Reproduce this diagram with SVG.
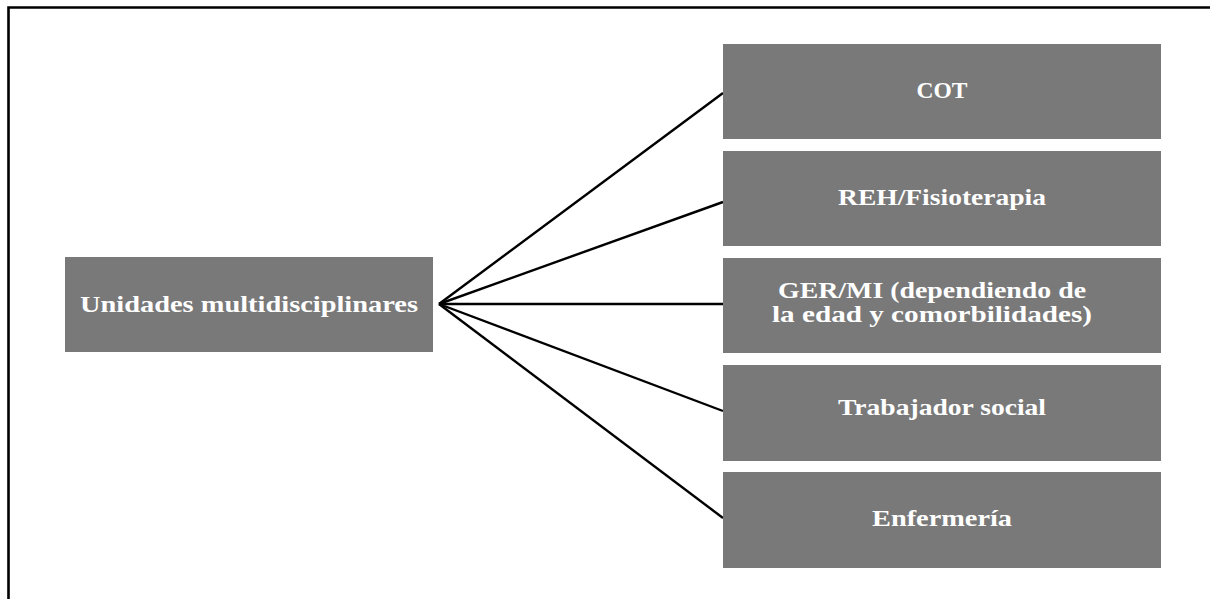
<svg xmlns="http://www.w3.org/2000/svg" width="1210" height="599" viewBox="0 0 1210 599">
<style>
.box{fill:#797979}
.lbl{font-family:"Liberation Serif","DejaVu Serif",serif;font-weight:bold;font-size:23.5px;fill:#ffffff;text-anchor:middle}
.con{stroke:#000;stroke-width:2.4;fill:none}
.frame{stroke:#000;stroke-width:2.6;fill:none}
</style>
<rect width="1210" height="599" fill="#fff"/>
<path class="frame" d="M8.5 599 V7.5 H1210"/>
<g id="connectors">
<line class="con" x1="439" y1="304" x2="723" y2="93"/>
<line class="con" x1="439" y1="304" x2="723" y2="202"/>
<line class="con" x1="439" y1="304" x2="723" y2="304"/>
<line class="con" x1="439" y1="304" x2="723" y2="411"/>
<line class="con" x1="439" y1="304" x2="723" y2="518"/>
</g>
<g id="unidades">
<rect class="box" x="65" y="257" width="368" height="95"/>
<text class="lbl" x="249" y="312" textLength="338" lengthAdjust="spacingAndGlyphs">Unidades multidisciplinares</text>
</g>
<g id="cot">
<rect class="box" x="723" y="44" width="438" height="95"/>
<text class="lbl" x="942" y="98">COT</text>
</g>
<g id="reh">
<rect class="box" x="723" y="151" width="438" height="95"/>
<text class="lbl" x="942" y="205" textLength="208" lengthAdjust="spacingAndGlyphs">REH/Fisioterapia</text>
</g>
<g id="ger">
<rect class="box" x="723" y="258" width="438" height="95"/>
<text class="lbl" x="932" y="298" textLength="308" lengthAdjust="spacingAndGlyphs">GER/MI (dependiendo de</text>
<text class="lbl" x="932" y="322" textLength="320" lengthAdjust="spacingAndGlyphs">la edad y comorbilidades)</text>
</g>
<g id="trabajador">
<rect class="box" x="723" y="365" width="438" height="96"/>
<text class="lbl" x="942" y="415" textLength="208" lengthAdjust="spacingAndGlyphs">Trabajador social</text>
</g>
<g id="enfermeria">
<rect class="box" x="723" y="472" width="438" height="96"/>
<text class="lbl" x="942" y="526" textLength="140" lengthAdjust="spacingAndGlyphs">Enfermería</text>
</g>
</svg>
